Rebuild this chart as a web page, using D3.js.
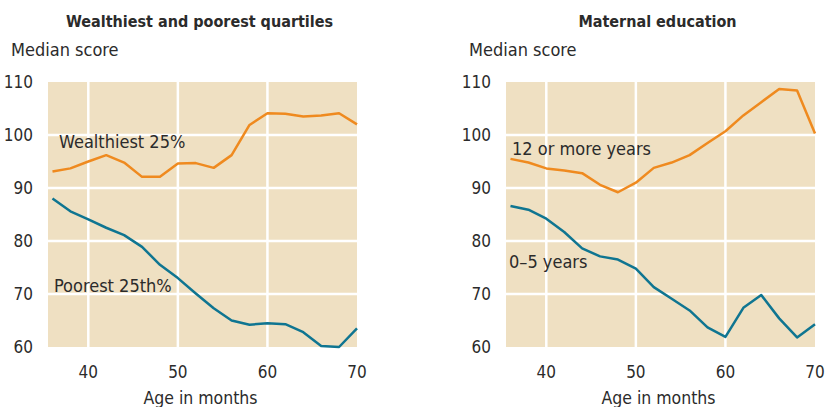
<!DOCTYPE html>
<html>
<head>
<meta charset="utf-8">
<script src="https://cdn.jsdelivr.net/npm/d3@7"></script>
<style>
  body { margin: 0; background: #fff; }
  svg text { font-family: "Liberation Sans Narrow", "DejaVu Sans Condensed", "Roboto Condensed", sans-serif; fill: #2b2b2b; }
</style>
</head>
<body>
<svg id="chart" width="826" height="407"></svg>
<script>
// ages 36..70 every 2 months
var ages = [36, 38, 40, 42, 44, 46, 48, 50, 52, 54, 56, 58, 60, 62, 64, 66, 68, 70];

// left panel
var wealthiest = [93.1, 93.7, 95.0, 96.2, 94.8, 92.1, 92.1, 94.6, 94.7, 93.8, 96.2, 101.9, 104.1, 104.0, 103.5, 103.7, 104.1, 102.0];
var poorest    = [88.0, 85.6, 84.1, 82.5, 81.1, 78.9, 75.5, 73.0, 70.1, 67.3, 65.0, 64.2, 64.5, 64.3, 62.8, 60.2, 60.0, 63.5];

// right panel
var moreYears  = [95.5, 94.8, 93.7, 93.3, 92.8, 90.6, 89.2, 91.0, 93.8, 94.8, 96.2, 98.5, 100.7, 103.7, 106.2, 108.7, 108.4, 100.3];
var fewYears   = [86.6, 85.9, 84.2, 81.7, 78.6, 77.1, 76.5, 74.8, 71.3, 69.1, 66.9, 63.7, 61.9, 67.4, 69.8, 65.4, 61.8, 64.3];

var xTicks = [40, 50, 60, 70];
var yTicks = [60, 70, 80, 90, 100, 110];

var orange = "#ef8a1f";
var teal = "#0f7591";

var panels = [
  { title: "Wealthiest and poorest quartiles", left: 48, right: 357, tickX: 33, ylabX: 11,
    series: [
      { values: wealthiest, color: orange, label: "Wealthiest 25%", lx: 59, ly: 148 },
      { values: poorest, color: teal, label: "Poorest 25th%", lx: 54, ly: 292 }
    ] },
  { title: "Maternal education", left: 506, right: 815, tickX: 491, ylabX: 469,
    series: [
      { values: moreYears, color: orange, label: "12 or more years", lx: 512, ly: 155 },
      { values: fewYears, color: teal, label: "0–5 years", lx: 509, ly: 268 }
    ] }
];

var svg = d3.select("#chart");
var plotTop = 82, plotBottom = 347;

panels.forEach(function(p) {
  var x = d3.scaleLinear().domain([35.5, 70]).range([p.left, p.right]);
  var y = d3.scaleLinear().domain([60, 110]).range([plotBottom, plotTop]);
  var g = svg.append("g");

  g.append("rect")
    .attr("x", p.left).attr("y", plotTop)
    .attr("width", p.right - p.left).attr("height", plotBottom - plotTop)
    .attr("fill", "#efe0c2");

  // grid
  g.selectAll(".gx").data(xTicks.filter(function(d){ return d < 70; })).enter().append("line")
    .attr("x1", function(d){ return x(d); }).attr("x2", function(d){ return x(d); })
    .attr("y1", plotTop).attr("y2", plotBottom + 3)
    .attr("stroke", "#fff").attr("stroke-width", 2.5);
  g.selectAll(".gy").data(yTicks.filter(function(d){ return d > 60 && d < 110; })).enter().append("line")
    .attr("x1", p.left).attr("x2", p.right)
    .attr("y1", function(d){ return y(d); }).attr("y2", function(d){ return y(d); })
    .attr("stroke", "#fff").attr("stroke-width", 2.5);

  // y ticks
  g.selectAll(".ty").data(yTicks).enter().append("text")
    .attr("x", p.tickX).attr("y", function(d){ return y(d) + 6; })
    .attr("text-anchor", "end").attr("font-size", 17)
    .text(function(d){ return d; });

  // x ticks
  g.selectAll(".tx").data(xTicks).enter().append("text")
    .attr("x", function(d){ return x(d); }).attr("y", 378)
    .attr("text-anchor", "middle").attr("font-size", 17)
    .text(function(d){ return d; });

  g.append("text").attr("x", (p.left + p.right) / 2 - 2).attr("y", 404)
    .attr("text-anchor", "middle").attr("font-size", 17.5).text("Age in months");

  g.append("text").attr("x", p.ylabX).attr("y", 56)
    .attr("font-size", 18).text("Median score");

  g.append("text").attr("x", (p.left + p.right) / 2 - 3).attr("y", 27)
    .attr("text-anchor", "middle").attr("font-size", 16).attr("font-weight", "bold")
    .text(p.title);

  var line = d3.line()
    .x(function(d, i){ return x(ages[i]); })
    .y(function(d){ return y(d); });

  p.series.forEach(function(s) {
    g.append("path").datum(s.values)
      .attr("d", line)
      .attr("fill", "none").attr("stroke", s.color)
      .attr("stroke-width", 2.5).attr("stroke-linejoin", "round");
    g.append("text").attr("x", s.lx).attr("y", s.ly)
      .attr("font-size", 18).text(s.label);
  });
});
</script>
</body>
</html>
